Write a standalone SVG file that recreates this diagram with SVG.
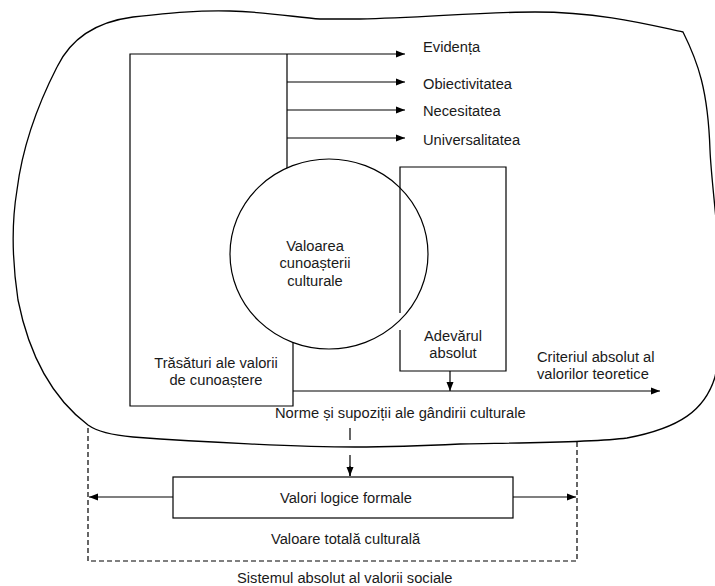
<svg xmlns="http://www.w3.org/2000/svg" width="715" height="586" viewBox="0 0 715 586">
<style>
text{font-family:"Liberation Sans",Arial,sans-serif;font-size:14.7px;fill:#1a1a1a}
.m{text-anchor:middle}
.ln{fill:none;stroke:#000;stroke-width:1.2}
.dash{fill:none;stroke:#000;stroke-width:1.2;stroke-dasharray:5 3}
</style>
<defs>
<marker id="ah" markerWidth="10" markerHeight="8" refX="9" refY="4" orient="auto" markerUnits="userSpaceOnUse">
<path d="M0,0.5 L9,4 L0,7.5 Z" fill="#000"/>
</marker>
</defs>
<rect width="715" height="586" fill="#fff"/>
<g id="total">
<path class="dash" d="M88 300 L88 561 L577 561 L577 300"/>
</g>
<g id="blob">
<path d="M133 17 C170 13 200 10 230 11 C270 12 300 18 320 19 L360 19 C420 18 480 12 535 12 C600 12 650 25 683 32 C698 62 708 90 710 150 C712 200 730 300 715 377 C705 410 680 428 627 438 C590 443 500 443 460 444 C420 446 380 447 355 447 C300 447 200 442 133 437 C110 435 95 430 88 425 C55 400 30 360 18 300 C12 260 12 220 17 190 C22 150 35 110 57 67 C70 40 95 22 133 17 Z" fill="#fff" stroke="#000" stroke-width="1.3"/>
</g>
<g id="trasaturi">
<path class="ln" d="M287 54 L130 54 L130 406 L293 406 L293 330"/>
<path class="ln" d="M287 54 L287 170"/>
<text class="m" x="216" y="368">Trăsături ale valorii</text>
<text class="m" x="216" y="385">de cunoaștere</text>
</g>
<g id="valoarea">
<ellipse cx="329" cy="254" rx="99" ry="95" fill="#fff" stroke="#000" stroke-width="1.2"/>
<text class="m" x="315" y="251">Valoarea</text>
<text class="m" x="315" y="268">cunoașterii</text>
<text class="m" x="315" y="286">culturale</text>
</g>
<g id="adevarul">
<path class="ln" d="M400 313 L400 167 L506 167 L506 371 L400 371 L400 330"/>
<text class="m" x="453" y="341">Adevărul</text>
<text class="m" x="453" y="358">absolut</text>
</g>
<g id="connectors">
<line class="ln" x1="287" y1="54" x2="405" y2="54" marker-end="url(#ah)"/>
<line class="ln" x1="287" y1="82" x2="405" y2="82" marker-end="url(#ah)"/>
<line class="ln" x1="287" y1="110" x2="405" y2="110" marker-end="url(#ah)"/>
<line class="ln" x1="287" y1="138" x2="405" y2="138" marker-end="url(#ah)"/>
<line class="ln" x1="293" y1="391" x2="660" y2="391" marker-end="url(#ah)"/>
<line class="ln" x1="450" y1="371" x2="450" y2="391" marker-end="url(#ah)"/>
<line class="ln" x1="350" y1="428" x2="350" y2="476" stroke-dasharray="12 15 50"/>
<line class="ln" x1="350" y1="466" x2="350" y2="476" marker-end="url(#ah)"/>
<line class="ln" x1="173" y1="497" x2="89" y2="497" marker-end="url(#ah)"/>
<line class="ln" x1="513" y1="497" x2="576" y2="497" marker-end="url(#ah)"/>
</g>
<g id="labels">
<text x="423" y="52">Evidența</text>
<text x="423" y="89">Obiectivitatea</text>
<text x="423" y="116">Necesitatea</text>
<text x="423" y="145">Universalitatea</text>
<text x="537" y="362">Criteriul absolut al</text>
<text x="537" y="379">valorilor teoretice</text>
<text x="275" y="418">Norme și supoziții ale gândirii culturale</text>
<text x="271" y="544">Valoare totală culturală</text>
<text x="237" y="583">Sistemul absolut al valorii sociale</text>
</g>
<g id="valori">
<rect class="ln" x="173" y="477" width="340" height="41"/>
<text x="280" y="503">Valori logice formale</text>
</g>
</svg>
